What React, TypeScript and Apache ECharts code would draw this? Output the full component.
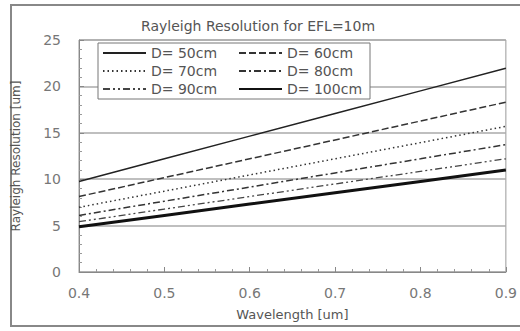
import React, { useEffect, useRef } from "react";
import * as echarts from "echarts";

const wavelengths = [0.4, 0.5, 0.6, 0.7, 0.8, 0.9];
const seriesNames = ["D= 50cm", "D= 60cm", "D= 70cm", "D= 80cm", "D= 90cm", "D= 100cm"];
const d50 = [9.76, 12.2, 14.64, 17.08, 19.52, 21.96];
const d60 = [8.13, 10.17, 12.2, 14.23, 16.27, 18.3];
const d70 = [6.97, 8.71, 10.46, 12.2, 13.94, 15.69];
const d80 = [6.1, 7.63, 9.15, 10.68, 12.2, 13.73];
const d90 = [5.42, 6.78, 8.13, 9.49, 10.84, 12.2];
const d100 = [4.88, 6.1, 7.32, 8.54, 9.76, 10.98];
const allValues = [d50, d60, d70, d80, d90, d100];

const FONT = "DejaVu Sans";

export default function App() {
  const ref = useRef<HTMLDivElement>(null);
  useEffect(() => {
    if (!ref.current) return;
    const chart = echarts.init(ref.current, null, { renderer: "svg" });
    const styles: any[] = [
      { type: "solid", width: 1.5, color: "#222" },
      { type: [7, 3], width: 1.5, color: "#333" },
      { type: [1.5, 3], width: 1.5, color: "#333" },
      { type: [7, 3, 2, 3], width: 1.5, color: "#333" },
      { type: [7, 3, 2, 3, 2, 3], width: 1.3, color: "#444" },
      { type: "solid", width: 3, color: "#111" },
    ];
    const series = allValues.map((vals, i) => ({
      name: seriesNames[i],
      type: "line",
      symbol: "none",
      data: vals.map((v, j) => [wavelengths[j], v]),
      lineStyle: styles[i],
      itemStyle: { color: styles[i].color },
    }));
    const legendCommon = {
      top: 46,
      orient: "vertical",
      padding: 0,
      itemWidth: 43,
      itemHeight: 14,
      itemGap: 4,
      itemStyle: { opacity: 0 },
      textStyle: { fontFamily: FONT, fontSize: 14, color: "#555" },
    };
    chart.setOption({
      animation: false,
      backgroundColor: "#fff",
      title: {
        text: "Rayleigh Resolution for EFL=10m",
        left: 136,
        top: 14,
        textStyle: { fontFamily: FONT, fontSize: 14, fontWeight: "normal", color: "#555" },
      },
      graphic: [
        {
          type: "rect",
          shape: { x: 11, y: 5, width: 530, height: 321 },
          style: { fill: "none", stroke: "#888", lineWidth: 2 },
          silent: true,
        },
        {
          type: "rect",
          shape: { x: 98, y: 43, width: 272, height: 56 },
          style: { fill: "#fff", stroke: "#777", lineWidth: 1 },
          silent: true,
          z: 50,
        },
      ],
      legend: [
        { ...legendCommon, left: 102, data: [seriesNames[0], seriesNames[2], seriesNames[4]], z: 60 },
        { ...legendCommon, left: 238, data: [seriesNames[1], seriesNames[3], seriesNames[5]], z: 60 },
      ],
      grid: {
        left: 79,
        right: 12,
        top: 40,
        bottom: 59,
        show: true,
        borderColor: "#999",
        borderWidth: 1,
      },
      xAxis: {
        type: "value",
        min: 0.4,
        max: 0.9,
        interval: 0.1,
        name: "Wavelength [um]",
        nameLocation: "middle",
        nameGap: 36,
        nameTextStyle: { fontFamily: FONT, fontSize: 13, color: "#555" },
        axisLine: { lineStyle: { color: "#888" } },
        axisTick: { inside: true, length: 5, lineStyle: { color: "#888" } },
        minorTick: { show: true, splitNumber: 5, length: 3, lineStyle: { color: "#999" } },
        axisLabel: {
          fontFamily: FONT,
          fontSize: 14,
          color: "#777",
          margin: 14,
          formatter: (v: number) => v.toFixed(1),
        },
        splitLine: { show: false },
      },
      yAxis: {
        type: "value",
        min: 0,
        max: 25,
        interval: 5,
        name: "Rayleigh Resolution [um]",
        nameLocation: "middle",
        nameGap: 57,
        nameTextStyle: { fontFamily: FONT, fontSize: 12, color: "#555" },
        axisLine: { show: true, lineStyle: { color: "#888" } },
        axisTick: { show: true, inside: true, length: 5, lineStyle: { color: "#888" } },
        minorTick: { show: true, splitNumber: 5, length: 3, lineStyle: { color: "#999" } },
        axisLabel: { fontFamily: FONT, fontSize: 14, color: "#777", margin: 18 },
        splitLine: { show: true, lineStyle: { color: "#aaa", width: 1.5 } },
      },
      series,
    });
    return () => chart.dispose();
  }, []);
  return (
    <div
      ref={ref}
      style={{ position: "absolute", left: 0, top: 0, width: 520, height: 331 }}
    />
  );
}
